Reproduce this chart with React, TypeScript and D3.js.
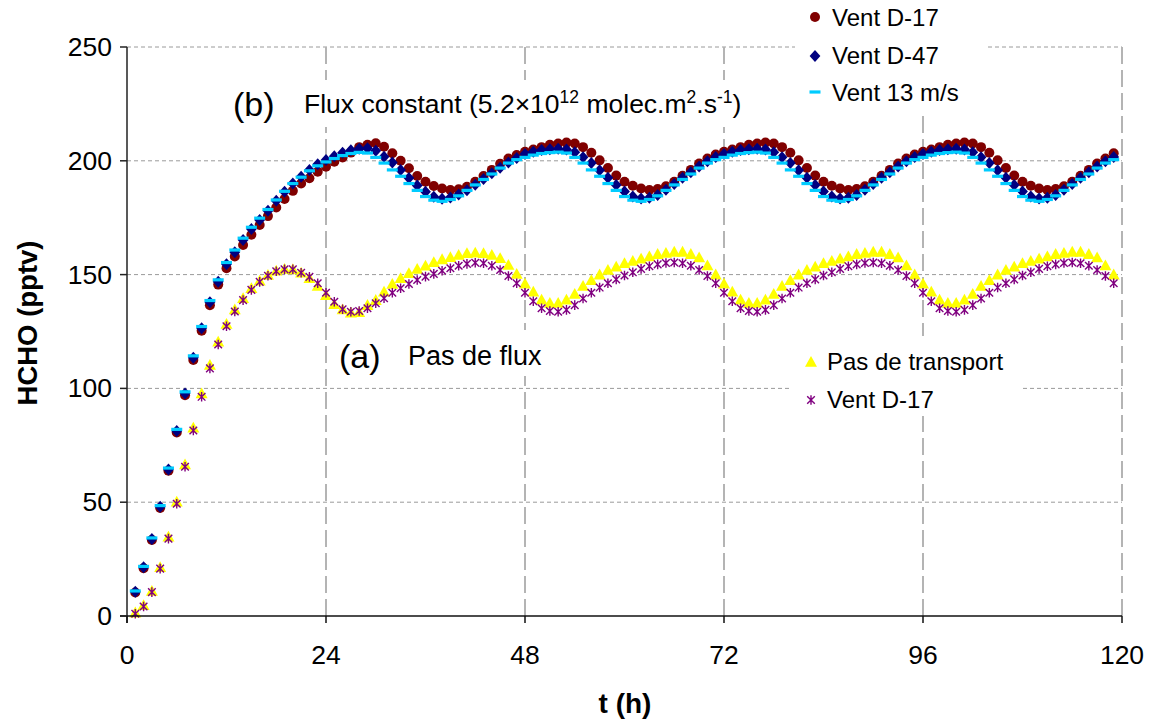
import React from "react";
import * as d3 from "d3";

// ---- data (hourly, t = 1 .. 119 h) ----
const hours: number[] = d3.range(1, 120);
const xTicks = [0, 24, 48, 72, 96, 120];
const yTicks = [0, 50, 100, 150, 200, 250];

// (b) Flux constant
const ventD17b = [
  10.3, 21, 33.4, 47.5, 63.8, 80.6, 97, 112.5, 125.3, 136.5, 145.6, 152.8, 158, 163, 167.5, 171.8, 175.7, 179.5, 183.2, 186.8, 190, 192.3, 195.2, 197.4, 199.6, 201.5, 203.6, 206,
  207, 207.7, 206.2, 203.3, 200, 196.7, 193.3, 190.8, 188.9, 187.8, 187.2, 187.5, 188.6, 190.8, 193.3, 196, 198.7, 201, 202.5,
  204, 205, 206, 207, 207.6, 208, 207.6, 206, 203.5, 200.2, 196.8, 193.5, 190.8, 189, 187.8, 187.2, 187.6, 188.8, 190.8, 193.4, 196, 198.8, 201, 202.8,
  204, 205, 206, 207, 207.6, 208, 207.6, 206, 203.5, 200.2, 196.8, 193.5, 190.8, 189, 187.8, 187.2, 187.6, 188.8, 190.8, 193.4, 196, 198.8, 201, 202.8,
  204, 205, 206, 207, 207.6, 208, 207.6, 206, 203.5, 200.2, 196.8, 193.5, 190.8, 189, 187.8, 187.2, 187.6, 188.8, 190.8, 193.4, 196, 198.8, 201, 203.3,
];
const ventD47b = [
  10.7, 21.4, 33.8, 48, 64.4, 81.3, 97.8, 113.5, 126.4, 137.8, 146.9, 154.5, 159.8, 165.2, 170, 174, 178, 182.5, 186.4, 190, 193, 196, 198.5, 200.4, 202, 203.5, 204.6, 205.3,
  205.5, 204.4, 201.8, 199.2, 196, 192.4, 189.2, 186.4, 184.2, 183.3, 183.9, 185.2, 187.1, 189.5, 192, 194.5, 197, 199.3, 201.2,
  203, 204, 204.7, 205.1, 205.3, 205, 203.8, 201.6, 199, 195.9, 192.5, 189.4, 186.5, 184.3, 183.4, 183.8, 185, 187.3, 189.8, 192.5, 195, 197.5, 199.8, 201.7,
  203, 204, 204.7, 205.1, 205.3, 205, 203.8, 201.6, 199, 195.9, 192.5, 189.4, 186.5, 184.3, 183.4, 183.8, 185, 187.3, 189.8, 192.5, 195, 197.5, 199.8, 201.7,
  203, 204, 204.7, 205.1, 205.3, 205, 203.8, 201.6, 199, 195.9, 192.5, 189.4, 186.5, 184.3, 183.4, 183.8, 185, 187.3, 189.8, 192.5, 195, 197.5, 199.8, 201.7,
];
const vent13b = [
  11, 21.8, 34.3, 48.5, 65, 82, 98.5, 114.3, 127.2, 138.6, 147.7, 155.3, 160.8, 166, 170.8, 174.8, 178.6, 182.8, 186.6, 190, 192.8, 195.6, 197.8, 199.5, 201, 202.3, 203.2, 203.7,
  203.4, 201.5, 199, 196, 193.2, 190, 187, 184.3, 182.7, 182.2, 183, 184.6, 187, 189.4, 191.8, 194.2, 196.8, 199, 200.5,
  201.5, 202.5, 203.2, 203.6, 203.8, 203.4, 201.5, 199, 196, 193.2, 190, 187, 184.3, 182.7, 182.2, 183, 184.6, 187, 189.4, 191.8, 194.2, 196.8, 199, 200.5,
  201.5, 202.5, 203.2, 203.6, 203.8, 203.4, 201.5, 199, 196, 193.2, 190, 187, 184.3, 182.7, 182.2, 183, 184.6, 187, 189.4, 191.8, 194.2, 196.8, 199, 200.5,
  201.5, 202.5, 203.2, 203.6, 203.8, 203.4, 201.5, 199, 196, 193.2, 190, 187, 184.3, 182.7, 182.2, 183, 184.6, 187, 189.4, 191.8, 194.2, 196.8, 199, 200.5,
];

// (a) Pas de flux
const pasTransportA = [
  1.5, 4.7, 11, 21.4, 34.8, 50.2, 66.6, 82.7, 97.8, 110.3, 120.5, 128.3, 134.7, 139.6, 144, 147.3, 149.8, 151.7, 152.5, 152.3, 150.8, 148.4, 145, 141, 137, 134.7, 133.3, 133.5,
  136.6, 138.8, 142.5, 145.9, 148.4, 150.6, 152.5, 153.9, 155.4, 156.7, 157.6, 158.6, 159.4, 159.6, 159.4, 158.6, 157.2, 154.2, 150.3,
  146, 142.5, 139, 137.5, 137.5, 139, 141.5, 145, 147.5, 150, 152, 153.5, 155, 156, 157, 158, 159, 159.5, 160, 160, 159, 157.5, 154, 150,
  146, 142.5, 139, 137.5, 137.5, 139, 141.5, 145, 147.5, 150, 152, 153.5, 155, 156, 157, 158, 159, 159.5, 160, 160, 159, 157.5, 154, 150,
  146, 142.5, 139, 137.5, 137.5, 139, 141.5, 145, 147.5, 150, 152, 153.5, 155, 156, 157, 158, 159, 159.5, 160, 160, 159, 157.5, 154, 150,
];
const ventD17a = [
  1, 4.2, 10.5, 20.8, 34, 49.3, 65.6, 81.5, 96.3, 108.8, 119.3, 127.3, 133.8, 138.8, 143.3, 146.8, 149.5, 151.5, 152.3, 152.3, 150.8, 149, 146.2, 142, 138.1, 134.8, 133.7, 134,
  135.2, 137.4, 139.6, 142, 144, 145.9, 147.6, 149.1, 150.3, 151.7, 152.8, 153.9, 154.7, 155.2, 155, 153.9, 152, 149.4, 146.2,
  142, 138.3, 135.2, 134, 133.7, 134.5, 136.6, 139.5, 142, 144.3, 146.2, 147.9, 149.6, 151, 152.5, 153.7, 154.5, 155.1, 155.3, 155, 153.9, 152, 149.4, 146.2,
  142, 138.3, 135.2, 134, 133.7, 134.5, 136.6, 139.5, 142, 144.3, 146.2, 147.9, 149.6, 151, 152.5, 153.7, 154.5, 155.1, 155.3, 155, 153.9, 152, 149.4, 146.2,
  142, 138.3, 135.2, 134, 133.7, 134.5, 136.6, 139.5, 142, 144.3, 146.2, 147.9, 149.6, 151, 152.5, 153.7, 154.5, 155.1, 155.3, 155, 153.9, 152, 149.4, 146.2,
];

// ---- styles ----
const FONT = "'Liberation Sans', Arial, Helvetica, sans-serif";
const C_RED = "#800000";
const C_NAVY = "#000080";
const C_CYAN = "#00CCFF";
const C_YELLOW = "#FFFF00";
const C_PURPLE = "#800080";

const W = 1150;
const H = 722;

type MarkerKind = "circle" | "diamond" | "dash" | "triangle" | "asterisk";

function Marker({ kind, cx, cy }: { kind: MarkerKind; cx: number; cy: number }) {
  const t = `translate(${cx},${cy})`;
  switch (kind) {
    case "circle":
      return <circle cx={cx} cy={cy} r={5} fill={C_RED} />;
    case "diamond":
      return <path transform={t} d="M0,-6L5.4,0L0,6L-5.4,0Z" fill={C_NAVY} />;
    case "dash":
      return <rect x={cx - 5.5} y={cy - 1.6} width={11} height={3.2} fill={C_CYAN} />;
    case "triangle":
      return <path transform={t} d="M0,-6L6,4.8L-6,4.8Z" fill={C_YELLOW} />;
    case "asterisk":
      return (
        <path
          transform={t}
          d="M-3.8,-3.8L3.8,3.8M-3.8,3.8L3.8,-3.8M0,-4.8L0,4.8"
          stroke={C_PURPLE}
          strokeWidth={1.4}
          fill="none"
        />
      );
  }
  return null;
}

export default function App() {
  const x = d3.scaleLinear().domain([0, 120]).range([127, 1122]);
  const y = d3.scaleLinear().domain([0, 250]).range([616, 47]);

  const series: { values: number[]; kind: MarkerKind }[] = [
    { values: pasTransportA, kind: "triangle" },
    { values: ventD17a, kind: "asterisk" },
    { values: ventD17b, kind: "circle" },
    { values: ventD47b, kind: "diamond" },
    { values: vent13b, kind: "dash" },
  ];

  return (
    <svg
      width={W}
      height={H}
      style={{ position: "absolute", left: 0, top: 0, background: "#fff" }}
      fontFamily={FONT}
    >
      <rect x={0} y={0} width={W} height={H} fill="#fff" />

      {/* horizontal gridlines */}
      {yTicks.filter((v) => v > 0).map((v) => (
        <line
          key={"hg" + v}
          x1={x(0)}
          x2={x(120)}
          y1={y(v)}
          y2={y(v)}
          stroke="#9a9a9a"
          strokeWidth={1}
          strokeDasharray="4,3"
        />
      ))}
      {/* vertical dashed lines */}
      {xTicks.filter((v) => v > 0).map((v) => (
        <line
          key={"vg" + v}
          x1={x(v)}
          x2={x(v)}
          y1={y(250)}
          y2={y(0)}
          stroke="#b4b4b4"
          strokeWidth={2}
          strokeDasharray="17,6"
        />
      ))}

      {/* label boxes */}
      <rect x={222} y={80} width={548} height={47} fill="#fff" />
      <rect x={335} y={330} width={212} height={46} fill="#fff" />
      <rect x={795} y={0} width={192} height={112} fill="#fff" />
      <rect x={792} y={336} width={228} height={80} fill="#fff" />

      {/* data markers */}
      {series.map((s, si) => (
        <g key={"s" + si}>
          {s.values.map((v, i) => (
            <Marker key={i} kind={s.kind} cx={x(hours[i])} cy={y(v)} />
          ))}
        </g>
      ))}

      {/* axes */}
      <line x1={x(0)} x2={x(0)} y1={y(250)} y2={y(0) + 7} stroke="#222" strokeWidth={1.5} />
      <line x1={x(0) - 7} x2={x(120)} y1={y(0)} y2={y(0)} stroke="#111" strokeWidth={1.5} />
      {yTicks.map((v) => (
        <g key={"yt" + v}>
          <line x1={x(0) - 7} x2={x(0)} y1={y(v)} y2={y(v)} stroke="#222" strokeWidth={1.5} />
          <text x={112} y={y(v) + 9} textAnchor="end" fontSize={26.5} fill="#000">
            {v}
          </text>
        </g>
      ))}
      {xTicks.map((v) => (
        <g key={"xt" + v}>
          <line x1={x(v)} x2={x(v)} y1={y(0)} y2={y(0) + 7} stroke="#111" strokeWidth={1.5} />
          <text x={x(v)} y={664} textAnchor="middle" fontSize={26.5} fill="#000">
            {v}
          </text>
        </g>
      ))}

      {/* axis titles */}
      <text x={625} y={713} textAnchor="middle" fontSize={28} fontWeight="bold">
        t (h)
      </text>
      <text
        transform={`translate(37,323) rotate(-90)`}
        textAnchor="middle"
        fontSize={27.5}
        fontWeight="bold"
      >
        HCHO (pptv)
      </text>

      {/* annotations */}
      <text x={233} y={116} fontSize={34}>(b)</text>
      <text x={304} y={113} fontSize={26.5}>
        Flux constant (5.2×10
        <tspan dy={-10} fontSize={17.5}>12</tspan>
        <tspan dy={10}> molec.m</tspan>
        <tspan dy={-10} fontSize={17.5}>2</tspan>
        <tspan dy={10}>.s</tspan>
        <tspan dy={-10} fontSize={17.5}>-1</tspan>
        <tspan dy={10}>)</tspan>
      </text>
      <text x={339} y={368} fontSize={34}>(a)</text>
      <text x={408} y={365} fontSize={27}>Pas de flux</text>

      {/* legend (b) */}
      <Marker kind="circle" cx={815} cy={17} />
      <text x={832} y={26} fontSize={24}>Vent D-17</text>
      <Marker kind="diamond" cx={815} cy={56} />
      <text x={832} y={64} fontSize={24}>Vent D-47</text>
      <Marker kind="dash" cx={815} cy={92} />
      <text x={832} y={101} fontSize={24}>Vent 13 m/s</text>

      {/* legend (a) */}
      <Marker kind="triangle" cx={811} cy={362} />
      <text x={827} y={370} fontSize={24}>Pas de transport</text>
      <Marker kind="asterisk" cx={811} cy={400} />
      <text x={827} y={408} fontSize={24}>Vent D-17</text>
    </svg>
  );
}
